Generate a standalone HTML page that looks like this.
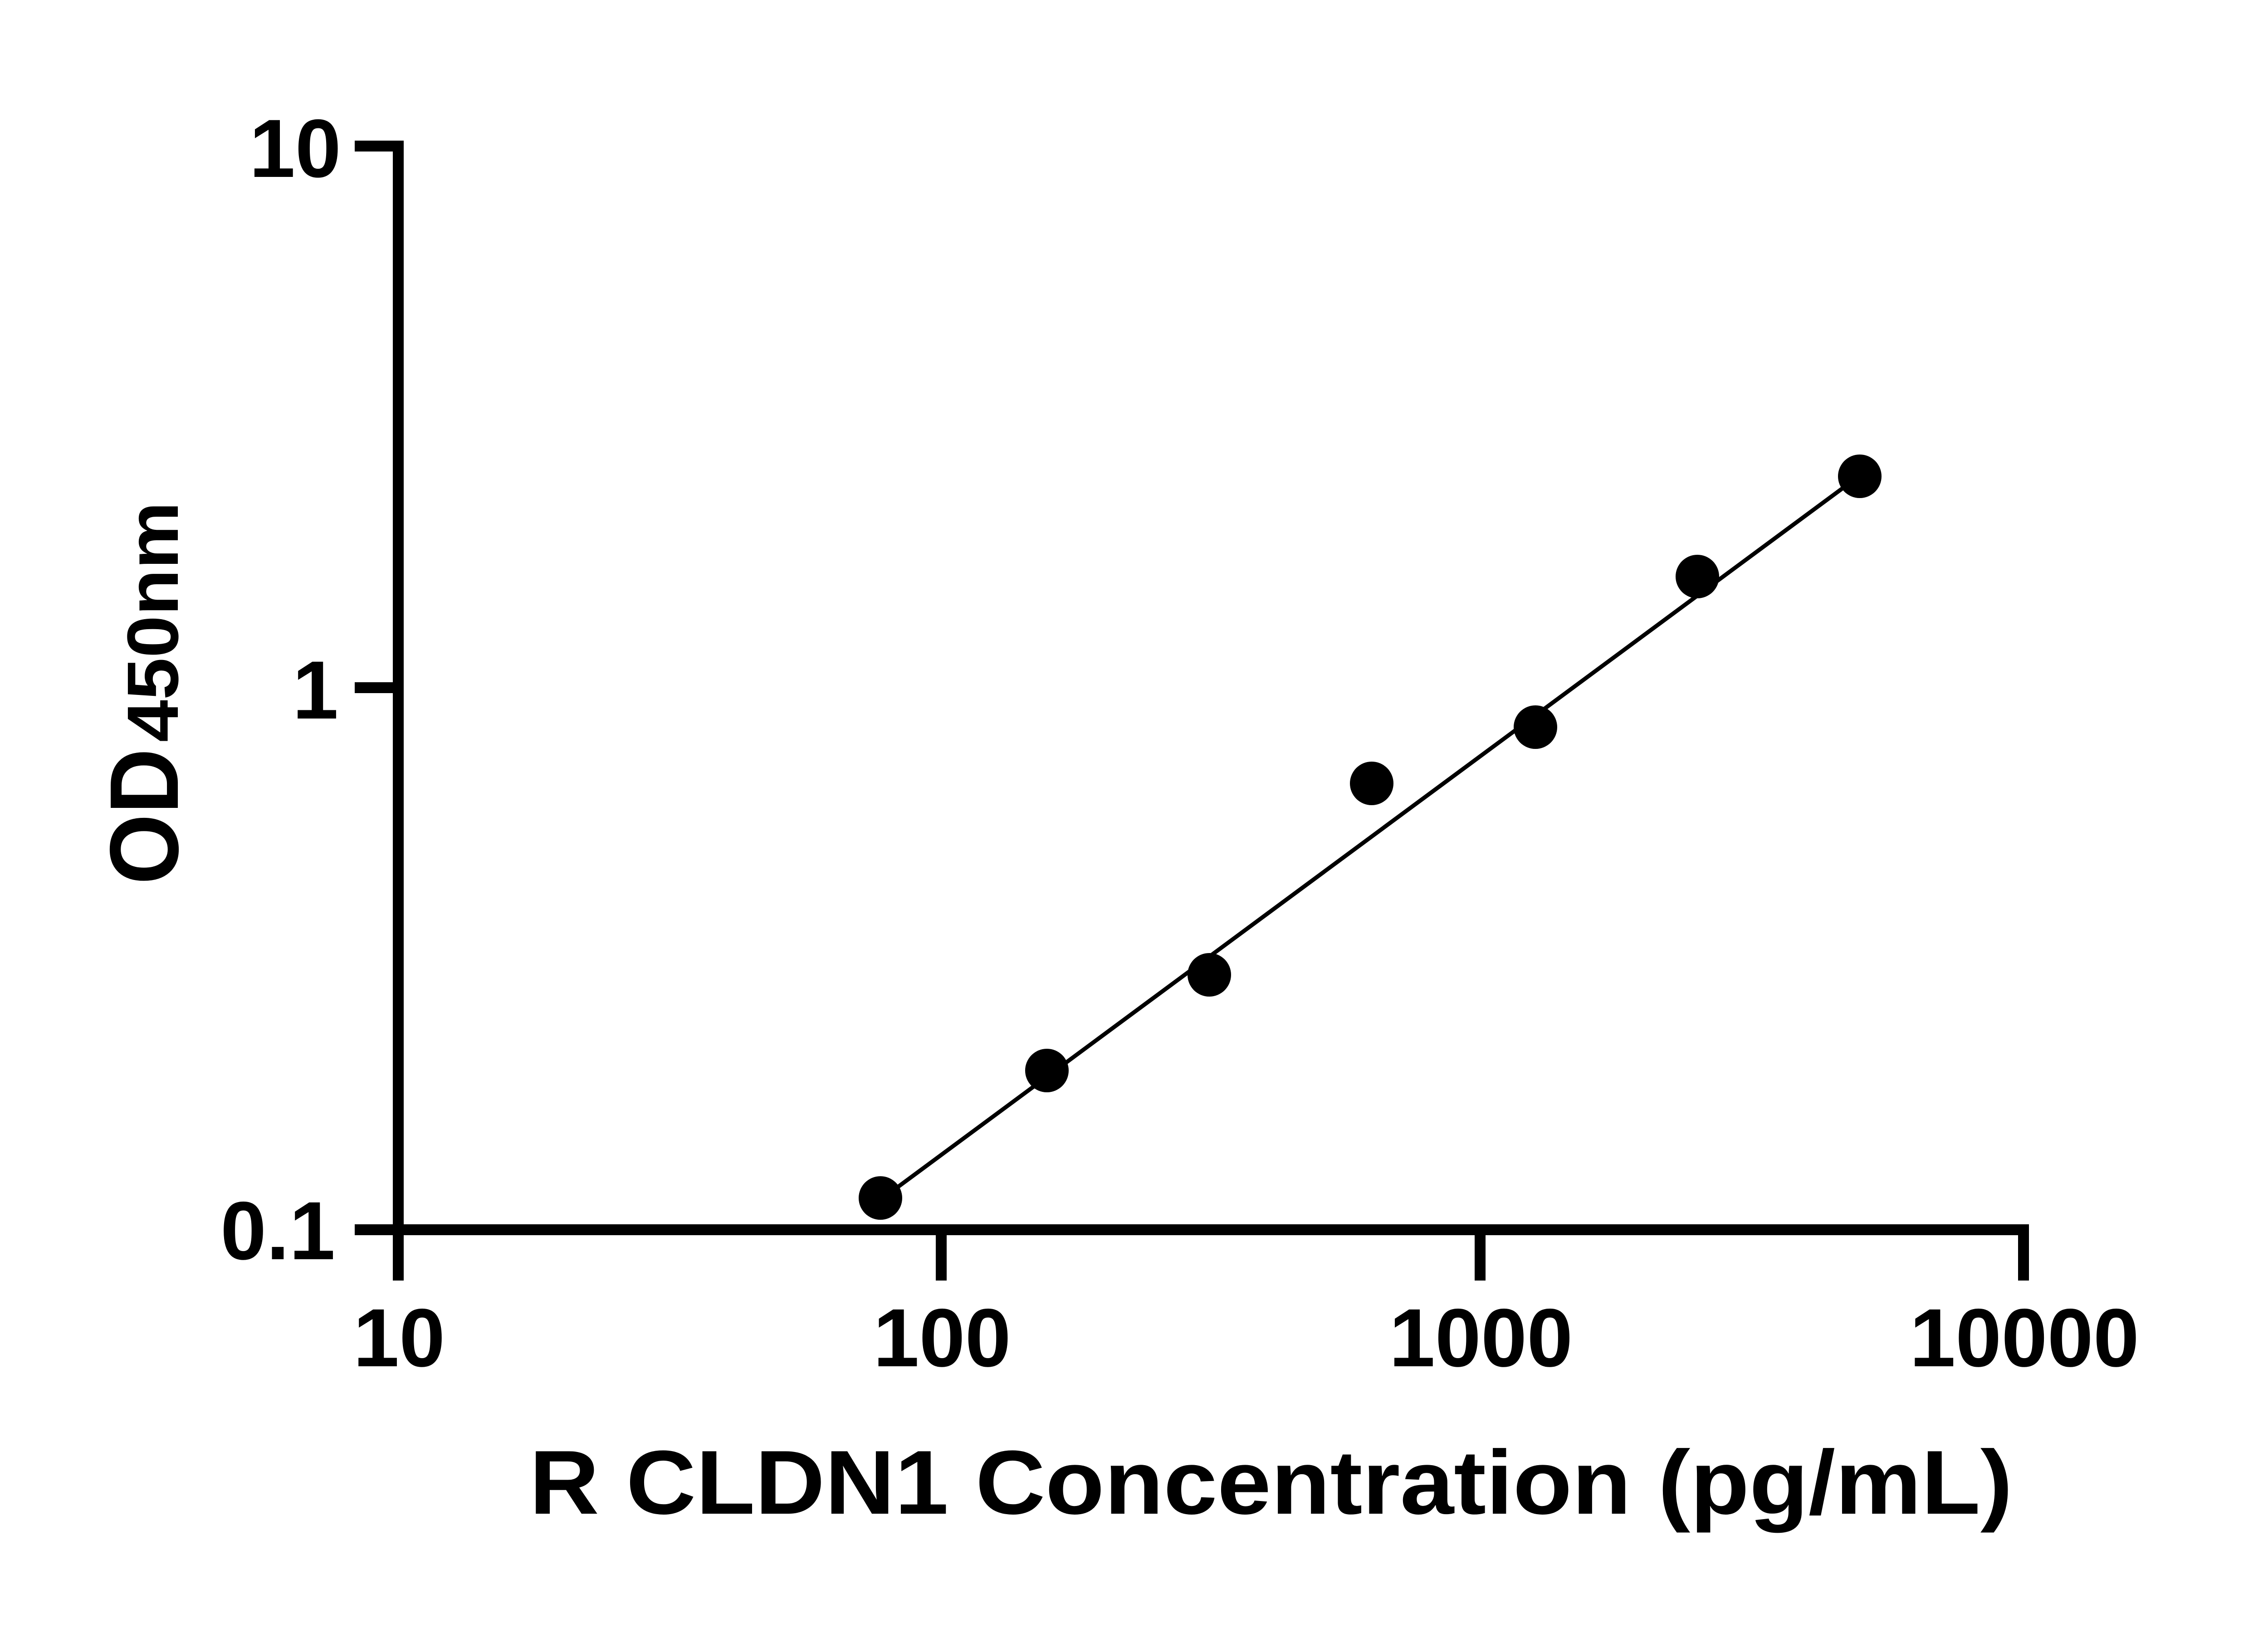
<!DOCTYPE html>
<html><head><meta charset="utf-8"><style>
html,body{margin:0;padding:0;background:#fff;}
svg{display:block;}
text{font-family:"Liberation Sans",Arial,sans-serif;font-weight:bold;fill:#000;}
</style></head><body>
<svg width="5046" height="3600" viewBox="0 0 5046 3600" xmlns="http://www.w3.org/2000/svg">
<rect width="5046" height="3600" fill="#fff"/>
<!-- axes -->
<rect x="866" y="310" width="24" height="2413" fill="#000"/>
<rect x="866" y="2699" width="3607" height="24" fill="#000"/>
<!-- y ticks -->
<rect x="782" y="310" width="100" height="24" fill="#000"/>
<rect x="782" y="1504" width="100" height="24" fill="#000"/>
<rect x="782" y="2699" width="100" height="24" fill="#000"/>
<!-- x ticks -->
<rect x="866" y="2715" width="24" height="108" fill="#000"/>
<rect x="2063" y="2715" width="24" height="108" fill="#000"/>
<rect x="3251" y="2715" width="24" height="108" fill="#000"/>
<rect x="4449" y="2715" width="24" height="108" fill="#000"/>
<!-- y tick labels -->
<g font-size="182" text-anchor="end">
<text x="752" y="390">10</text>
<text x="746" y="1584">1</text>
<text x="739" y="2776">0.1</text>
</g>
<!-- x tick labels -->
<g font-size="182" text-anchor="middle">
<text x="880" y="3012">10</text>
<text x="2077" y="3012">100</text>
<text x="3265" y="3012">1000</text>
<text x="4463" y="3012">10000</text>
</g>
<!-- fit line -->
<line x1="1975" y1="2620" x2="4068" y2="1072" stroke="#000" stroke-width="9"/>
<!-- points -->
<g fill="#000">
<circle cx="1941" cy="2641" r="48"/>
<circle cx="2308" cy="2360" r="48"/>
<circle cx="2666" cy="2149" r="48"/>
<circle cx="3024" cy="1727" r="48"/>
<circle cx="3385" cy="1603" r="48"/>
<circle cx="3742" cy="1271" r="48"/>
<circle cx="4100" cy="1050" r="48"/>
</g>
<!-- x title -->
<text x="1167" y="3337" font-size="200" textLength="3270" lengthAdjust="spacingAndGlyphs">R CLDN1 Concentration (pg/mL)</text>
<!-- y title -->
<text transform="translate(392,1950) rotate(-90)" font-size="215"><tspan textLength="300" lengthAdjust="spacingAndGlyphs">OD</tspan><tspan dx="14" font-size="160" textLength="530" lengthAdjust="spacingAndGlyphs">450nm</tspan></text>
</svg>
</body></html>
